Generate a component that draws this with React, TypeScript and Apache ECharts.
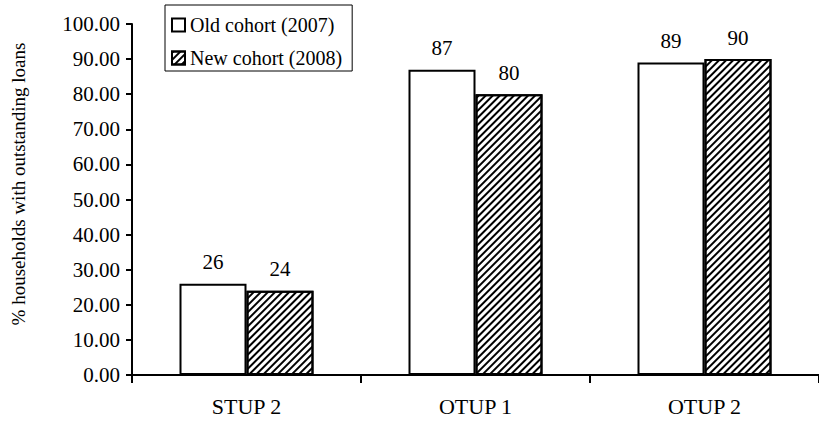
import React, { useEffect, useRef } from "react";
import * as echarts from "echarts";

const categories = ["STUP 2", "OTUP 1", "OTUP 2"];
const oldCohort = [26, 87, 89];
const newCohort = [24, 80, 90];
const seriesNames = ["Old cohort (2007)", "New cohort (2008)"];
const yAxisTitle = "% households with outstanding loans";

const FONT = '"Liberation Serif", "Times New Roman", serif';

export default function App() {
  const ref = useRef<HTMLDivElement>(null);
  useEffect(() => {
    document.body.style.margin = "0";
    const chart = echarts.init(ref.current!, null, { renderer: "svg" });
    const hatch = {
      symbol: "rect",
      symbolSize: 1,
      dashArrayX: [1, 0],
      dashArrayY: [1.7, 2.1],
      rotation: -Math.PI / 4,
      color: "#000",
      backgroundColor: "#fff",
    };
    const labelStyle = {
      show: true,
      position: "top",
      distance: 11,
      color: "#000",
      fontFamily: FONT,
      fontSize: 21,
    };
    chart.setOption({
      animation: false,
      backgroundColor: "#fff",
      textStyle: { fontFamily: FONT, color: "#000" },
      grid: { left: 132, top: 24, width: 699, height: 351 },
      legend: {
        left: 165,
        top: 5,
        orient: "vertical",
        backgroundColor: "#fff",
        borderColor: "#000",
        borderWidth: 1,
        padding: [10, 10, 3, 6],
        itemGap: 13,
        itemWidth: 13,
        itemHeight: 13,
        icon: "rect",
        textStyle: { fontFamily: FONT, fontSize: 20, color: "#000", lineHeight: 20 },
        itemStyle: { borderColor: "#000", borderWidth: 2 },
        data: seriesNames,
      },
      xAxis: {
        type: "category",
        data: categories,
        axisLine: { lineStyle: { color: "#000", width: 2 } },
        axisTick: { show: true, length: 8, lineStyle: { color: "#000", width: 2 } },
        axisLabel: { margin: 20, color: "#000", fontFamily: FONT, fontSize: 22 },
      },
      yAxis: {
        type: "value",
        min: 0,
        max: 100,
        interval: 10,
        splitLine: { show: false },
        axisLine: { show: true, lineStyle: { color: "#000", width: 2 } },
        axisTick: { show: true, length: 6, lineStyle: { color: "#000", width: 2 } },
        axisLabel: {
          margin: 12,
          color: "#000",
          fontFamily: FONT,
          fontSize: 21,
          formatter: (v: number) => v.toFixed(2),
        },
      },
      graphic: [
        {
          type: "text",
          x: 18,
          y: 184,
          rotation: Math.PI / 2,
          style: {
            text: yAxisTitle,
            fontFamily: FONT,
            fontSize: 19,
            fill: "#000",
            align: "center",
            verticalAlign: "middle",
          },
        },
      ],
      series: [
        {
          name: seriesNames[0],
          type: "bar",
          data: oldCohort,
          barWidth: 67,
          barGap: "0%",
          itemStyle: { color: "#fff", borderColor: "#000", borderWidth: 2 },
          label: labelStyle,
        },
        {
          name: seriesNames[1],
          type: "bar",
          data: newCohort,
          barWidth: 67,
          barGap: "0%",
          itemStyle: { color: "#fff", borderColor: "#000", borderWidth: 2, decal: hatch },
          label: labelStyle,
        },
      ],
    });
    return () => chart.dispose();
  }, []);
  return <div ref={ref} style={{ width: 819, height: 424 }} />;
}
